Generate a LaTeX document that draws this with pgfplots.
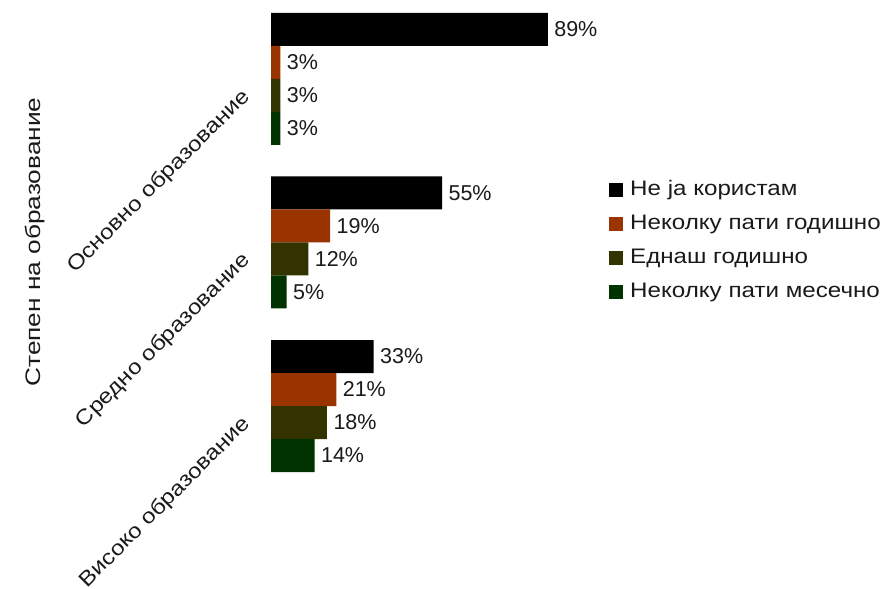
\documentclass[border=0pt]{standalone}
\usepackage{fontspec}
\setmainfont{Liberation Sans}
\newfontfamily\cyr[FakeStretch=1.15]{Liberation Sans}
\newfontfamily\cyrw[FakeStretch=1.25]{Liberation Sans}
\usepackage{pgfplots}
\pgfplotsset{compat=1.18}
\definecolor{cA}{HTML}{000000}
\definecolor{cB}{HTML}{993300}
\definecolor{cC}{HTML}{333300}
\definecolor{cD}{HTML}{003300}
\definecolor{txt}{HTML}{1A1A1A}
\begin{document}
\begin{tikzpicture}
\begin{axis}[
  at={(271bp,109.4bp)}, anchor=south west,
  scale only axis, width=311bp, height=474.2bp,
  xmin=0, xmax=100, ymin=-0.45, ymax=2.45,
  xbar, bar width=33bp,
  axis line style={draw=none},
  tick style={draw=none},
  xtick=\empty,
  ytick={0,1,2},
  yticklabels={Високо образование, Средно образование, Основно образование},
  yticklabel style={xshift=-27bp, yshift=-3bp, rotate=45, anchor=north east, text=txt, font=\cyr\fontsize{21bp}{24bp}\selectfont},
  ylabel={Степен на образование},
  ylabel style={at={(axis description cs:-0.759,0.501)}, anchor=center, text=txt, font=\cyrw\fontsize{21bp}{24bp}\selectfont},
  point meta=x,
  /pgf/number format/assume math mode=true,
  nodes near coords={\pgfmathprintnumber{\pgfplotspointmeta}\%},
  nodes near coords align=horizontal,
  every node near coord/.append style={anchor=west, xshift=3bp, text=txt, font=\fontsize{21.5bp}{24bp}\selectfont},
  legend image code/.code={\fill[#1] (0bp,-7bp) rectangle (14bp,7bp);},
  legend style={at={(axis description cs:1.0868,0.635)}, anchor=north west, draw=none, fill=none,
    inner sep=0bp, row sep=11bp,
    nodes={text height=15bp, text depth=4bp, inner sep=2bp},
    /tikz/every odd column/.append style={column sep=5bp},
    font=\cyr\fontsize{21bp}{24bp}\selectfont, text=txt},
  legend cell align=left,
]
\addplot[bar shift=49.5bp, fill=cA, draw=none] coordinates {(89,2) (55,1) (33,0)};
\addlegendentry{Не ја користам}
\addplot[bar shift=16.5bp, fill=cB, draw=none] coordinates {(3,2) (19,1) (21,0)};
\addlegendentry{Неколку пати годишно}
\addplot[bar shift=-16.5bp, fill=cC, draw=none] coordinates {(3,2) (12,1) (18,0)};
\addlegendentry{Еднаш годишно}
\addplot[bar shift=-49.5bp, fill=cD, draw=none] coordinates {(3,2) (5,1) (14,0)};
\addlegendentry{Неколку пати месечно}
\end{axis}
\pgfresetboundingbox
\path[use as bounding box] (0,0) rectangle (885bp,589bp);
\end{tikzpicture}
\end{document}
